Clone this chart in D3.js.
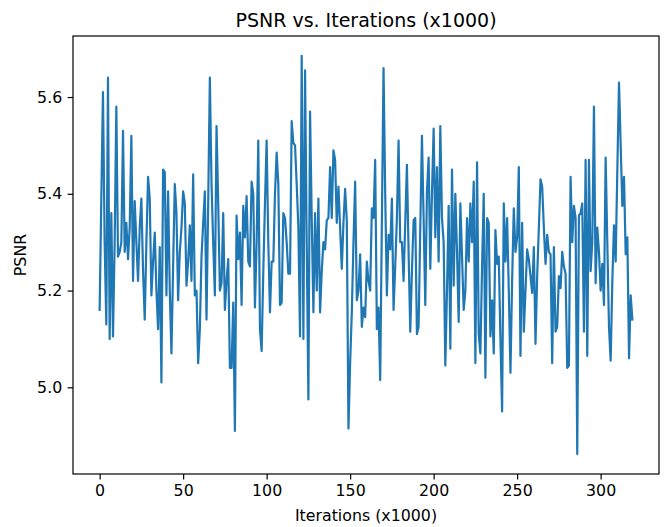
<!DOCTYPE html>
<html>
<head>
<meta charset="utf-8">
<script src="https://cdn.jsdelivr.net/npm/d3@7"></script>
<style>
  body { margin: 0; background: #fff; }
  svg text { font-family: "DejaVu Sans", sans-serif; fill: #000; }
</style>
</head>
<body>
<div id="chart"></div>
<script>
const psnr = [
  5.16, 5.39, 5.61, 5.30, 5.13, 5.64, 5.10, 5.36, 5.105, 5.30,
  5.58, 5.27, 5.28, 5.30, 5.53, 5.28, 5.34, 5.265, 5.33, 5.52,
  5.22, 5.385, 5.30, 5.22, 5.33, 5.39, 5.24, 5.14, 5.30, 5.435,
  5.39, 5.19, 5.26, 5.32, 5.20, 5.12, 5.29, 5.01, 5.45, 5.445,
  5.19, 5.405, 5.20, 5.07, 5.25, 5.42, 5.36, 5.18, 5.28, 5.33,
  5.405, 5.38, 5.21, 5.26, 5.335, 5.22, 5.44, 5.19, 5.20, 5.05,
  5.12, 5.27, 5.34, 5.405, 5.14, 5.38, 5.64, 5.42, 5.30, 5.19,
  5.54, 5.38, 5.20, 5.215, 5.36, 5.16, 5.22, 5.265, 5.04, 5.04,
  5.175, 4.91, 5.355, 5.265, 5.32, 5.17, 5.375, 5.31, 5.395, 5.26,
  5.25, 5.425, 5.40, 5.165, 5.30, 5.51, 5.12, 5.075, 5.24, 5.38,
  5.51, 5.30, 5.155, 5.26, 5.26, 5.40, 5.485, 5.42, 5.17, 5.175,
  5.36, 5.35, 5.30, 5.235, 5.235, 5.55, 5.505, 5.50, 5.42, 5.33,
  5.105, 5.685, 5.10, 5.655, 5.30, 4.975, 5.57, 5.35, 5.155, 5.36,
  5.20, 5.39, 5.155, 5.24, 5.30, 5.285, 5.345, 5.35, 5.455, 5.35,
  5.49, 5.47, 5.34, 5.415, 5.33, 5.245, 5.34, 5.41, 5.345, 4.915,
  5.05, 5.155, 5.30, 5.425, 5.18, 5.20, 5.275, 5.125, 5.165, 5.145,
  5.26, 5.22, 5.20, 5.37, 5.35, 5.47, 5.12, 5.165, 5.015, 5.34,
  5.66, 5.40, 5.19, 5.315, 5.285, 5.39, 5.16, 5.25, 5.35, 5.51,
  5.30, 5.30, 5.22, 5.34, 5.46, 5.28, 5.115, 5.24, 5.345, 5.35,
  5.11, 5.125, 5.33, 5.52, 5.35, 5.17, 5.405, 5.475, 5.245, 5.40,
  5.535, 5.31, 5.455, 5.26, 5.54, 5.35, 5.30, 5.045, 5.20, 5.375,
  5.08, 5.45, 5.21, 5.40, 5.28, 5.135, 5.38, 5.27, 5.16, 5.20,
  5.35, 5.26, 5.38, 5.30, 5.425, 5.05, 5.465, 5.11, 5.07, 5.25,
  5.40, 5.02, 5.35, 5.34, 5.105, 5.18, 5.07, 5.325, 5.255, 5.27,
  5.10, 4.95, 5.38, 5.26, 5.35, 5.20, 5.03, 5.22, 5.37, 5.28,
  5.31, 5.455, 5.065, 5.34, 5.115, 5.20, 5.285, 5.265, 5.23, 5.195,
  5.29, 5.09, 5.23, 5.33, 5.43, 5.415, 5.33, 5.255, 5.315, 5.28,
  5.275, 5.05, 5.29, 5.115, 5.125, 5.23, 5.205, 5.28, 5.25, 5.235,
  5.04, 5.045, 5.435, 5.30, 5.375, 5.35, 4.862, 5.355, 5.36, 5.38,
  5.115, 5.47, 5.065, 5.47, 5.24, 5.30, 5.58, 5.215, 5.33, 5.28,
  5.20, 5.255, 5.17, 5.475, 5.30, 5.125, 5.055, 5.22, 5.335, 5.26,
  5.45, 5.63, 5.50, 5.375, 5.435, 5.275, 5.31, 5.06, 5.19, 5.14
];

const xTicks = [0, 50, 100, 150, 200, 250, 300];
const yTicks = [5.0, 5.2, 5.4, 5.6];

const titleText = "PSNR vs. Iterations (x1000)";
const xLabel = "Iterations (x1000)";
const yLabel = "PSNR";

const W = 665, H = 527;
const margin = { top: 36, right: 6, bottom: 53, left: 73 };
const width = W - margin.left - margin.right;
const height = H - margin.top - margin.bottom;

const fontSize = 15.8;
const tickLen = 5.4;

const svg = d3.select("#chart")
    .append("svg")
    .attr("width", W)
    .attr("height", H);

const g = svg.append("g")
    .attr("transform", `translate(${margin.left},${margin.top})`);

// matplotlib style 5% padding around the data
const xMax = psnr.length - 1;
const xPad = xMax * 0.05;
const [yMin, yMax] = d3.extent(psnr);
const yPad = (yMax - yMin) * 0.05;

const x = d3.scaleLinear()
    .domain([-xPad, xMax + xPad])
    .range([0, width]);

const y = d3.scaleLinear()
    .domain([yMin - yPad, yMax + yPad])
    .range([height, 0]);

const line = d3.line()
    .x((d, i) => x(i))
    .y(d => y(d));

g.append("path")
    .datum(psnr)
    .attr("fill", "none")
    .attr("stroke", "#1f77b4")
    .attr("stroke-width", 2.2)
    .attr("stroke-linejoin", "round")
    .attr("stroke-linecap", "square")
    .attr("d", line);

// X axis
const xAxis = g.append("g")
    .attr("transform", `translate(0,${height})`)
    .call(d3.axisBottom(x).tickValues(xTicks).tickSize(tickLen).tickPadding(5.4).tickFormat(d3.format("d")));

// Y axis
const yAxis = g.append("g")
    .call(d3.axisLeft(y).tickValues(yTicks).tickSize(tickLen).tickPadding(5.4).tickFormat(d3.format(".1f")));

[xAxis, yAxis].forEach(a => {
    a.select(".domain").remove();
    a.selectAll(".tick line").attr("stroke", "#000").attr("stroke-width", 1.2);
    a.selectAll(".tick text")
        .attr("font-size", fontSize)
        .attr("font-family", "DejaVu Sans");
});

// frame (spines)
g.append("rect")
    .attr("x", 0)
    .attr("y", 0)
    .attr("width", width)
    .attr("height", height)
    .attr("fill", "none")
    .attr("stroke", "#000")
    .attr("stroke-width", 1.2);

// Title
svg.append("text")
    .attr("x", margin.left + width / 2)
    .attr("y", margin.top - 9)
    .attr("text-anchor", "middle")
    .attr("font-size", 19)
    .text(titleText);

// X label
svg.append("text")
    .attr("x", margin.left + width / 2)
    .attr("y", H - 6)
    .attr("text-anchor", "middle")
    .attr("font-size", fontSize)
    .text(xLabel);

// Y label
svg.append("text")
    .attr("transform", `translate(${26},${margin.top + height / 2}) rotate(-90)`)
    .attr("text-anchor", "middle")
    .attr("font-size", fontSize)
    .text(yLabel);
</script>
</body>
</html>
